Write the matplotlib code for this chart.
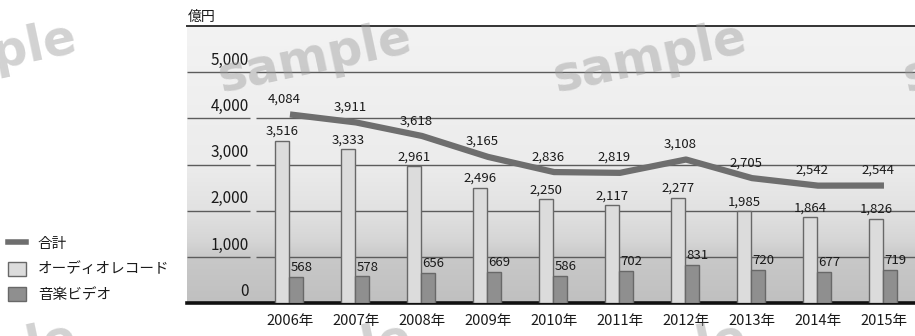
import numpy as np
import matplotlib.pyplot as plt
from matplotlib.colors import LinearSegmentedColormap
from matplotlib.lines import Line2D
from matplotlib.patches import Patch

plt.rcParams['font.family'] = ['Noto Sans CJK JP', 'DejaVu Sans']

# 売上推移（億円）
years = ['2006年', '2007年', '2008年', '2009年', '2010年',
         '2011年', '2012年', '2013年', '2014年', '2015年']
total = [4084, 3911, 3618, 3165, 2836, 2819, 3108, 2705, 2542, 2544]
audio = [3516, 3333, 2961, 2496, 2250, 2117, 2277, 1985, 1864, 1826]
video = [568, 578, 656, 669, 586, 702, 831, 720, 677, 719]
y_ticks = [0, 1000, 2000, 3000, 4000, 5000]
legend_labels = ['合計', 'オーディオレコード', '音楽ビデオ']

line_color = '#6e6e6e'
audio_color = '#dcdcdc'
video_color = '#8f8f8f'
edge_color = '#686868'
grid_color = '#5c5c5c'
text_color = '#1a1a1a'

W, H = 915, 336
fig = plt.figure(figsize=(W / 100, H / 100), dpi=100)
ax = fig.add_axes([187 / W, 33 / H, 728 / W, 277 / H])

x = np.arange(len(years))
x0, x1 = -1.56, 9.47
ax.set_xlim(x0, x1)
ax.set_ylim(0, 6000)

# 背景のグラデーション
bg = LinearSegmentedColormap.from_list('bg', [
    (0.0, '#c0c0c0'), (0.16, '#c8c8c8'), (0.22, '#d5d5d5'),
    (0.34, '#e2e2e2'), (0.5, '#ececec'), (1.0, '#f3f3f3')])
ax.imshow(np.linspace(0, 1, 256).reshape(-1, 1), cmap=bg, aspect='auto',
          extent=(x0, x1, 0, 6000), origin='lower', zorder=0)

# 目盛り線（数値ラベルの右で途切れる）
for v in y_ticks[1:]:
    ax.hlines(v, x0, -0.61, color=grid_color, lw=1.0, zorder=1)
    ax.hlines(v, -0.52, x1, color=grid_color, lw=1.0, zorder=1)
for v in y_ticks:
    ax.text(-0.62, v + 70, f'{v:,}', ha='right', va='bottom',
            fontsize=11, color=text_color, zorder=2)

ax.bar(x - 0.12, audio, 0.2, color=audio_color, edgecolor=edge_color,
       lw=1.0, zorder=3)
ax.bar(x + 0.09, video, 0.2, color=video_color, edgecolor=edge_color,
       lw=1.0, zorder=3)
ax.plot(x, total, color=line_color, lw=4.5, solid_capstyle='butt',
        solid_joinstyle='round', zorder=4)

for i in range(len(years)):
    ax.annotate(f'{total[i]:,}', (x[i], total[i]), xytext=(-4, 11),
                textcoords='offset points', ha='center', va='center',
                fontsize=9.5, color=text_color, zorder=5)
    ax.annotate(f'{audio[i]:,}', (x[i] - 0.12, audio[i]), xytext=(0, 2),
                textcoords='offset points', ha='center', va='bottom',
                fontsize=9.5, color=text_color, zorder=5)
    ax.annotate(f'{video[i]:,}', (x[i] - 0.01, video[i]), xytext=(1, 2),
                textcoords='offset points', ha='left', va='bottom',
                fontsize=9.5, color=text_color, zorder=5)

ax.set_xticks(x, years)
ax.set_yticks([])
ax.tick_params(axis='x', length=0, pad=8, labelsize=10.5, labelcolor=text_color)
for side in ['left', 'right']:
    ax.spines[side].set_visible(False)
ax.spines['top'].set_color('#333333')
ax.spines['top'].set_linewidth(1.4)
ax.spines['bottom'].set_color('#111111')
ax.spines['bottom'].set_linewidth(2.6)

fig.text(188 / W, 1 - 17 / H, '億円', ha='left', va='center',
         fontsize=10, color=text_color)

handles = [Line2D([], [], color=line_color, lw=4),
           Patch(facecolor=audio_color, edgecolor=edge_color),
           Patch(facecolor=video_color, edgecolor=edge_color)]
fig.legend(handles, legend_labels, loc='center left',
           bbox_to_anchor=(8 / W, 1 - 269 / H), frameon=False,
           fontsize=10.5, handlelength=1.25, handleheight=1.1,
           handletextpad=0.8, labelspacing=0.75, borderpad=0,
           borderaxespad=0, labelcolor=text_color)

# 透かし文字
for cy in [58, 358]:
    for cx in [-20, 315, 650, 1000]:
        fig.text(cx / W, 1 - cy / H, 'sample', rotation=12, ha='center',
                 va='center', fontsize=35, fontweight='bold',
                 family='DejaVu Sans', color='#9c9c9c', alpha=0.45,
                 zorder=10)

fig.savefig('out.png', dpi=100)
